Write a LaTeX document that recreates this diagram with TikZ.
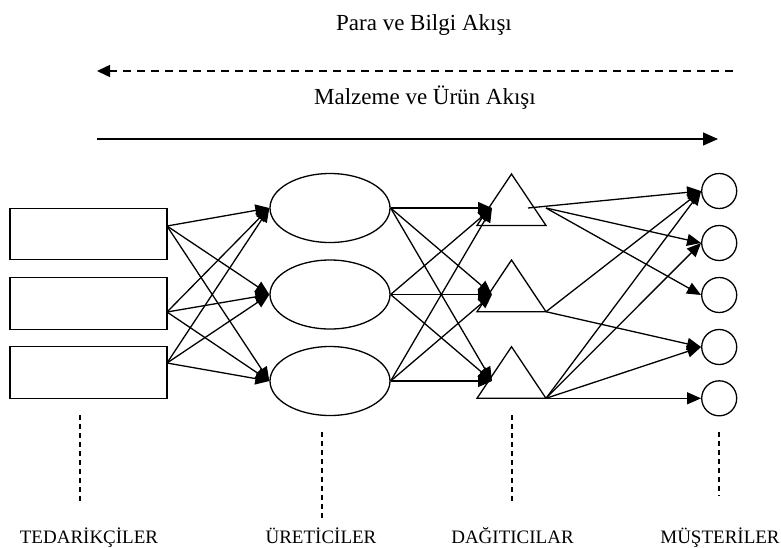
\documentclass[tikz,border=0pt]{standalone}
\usepackage{fontspec}
\setmainfont{Liberation Serif}
\usetikzlibrary{arrows.meta,shapes.geometric}
\begin{document}
\begin{tikzpicture}[x=1pt,y=-1pt,
  outline/.style={draw, line width=1.3pt, fill=white},
  supplier/.style={outline, rectangle, minimum width=157pt, minimum height=51.5pt, inner sep=0pt},
  producer/.style={outline, ellipse, minimum width=120pt, minimum height=69pt, inner sep=0pt},
  customer/.style={outline, circle, minimum size=35pt, inner sep=0pt},
  flow/.style={line width=1.3pt, -{Triangle[length=14pt,width=12pt]}},
  heading/.style={font=\fontsize{23}{27}\selectfont, anchor=base, inner sep=0pt},
  tier/.style={font=\fontsize{19}{23}\selectfont, anchor=base, inner sep=0pt},
  tierline/.style={line width=1.5pt, dash pattern=on 5pt off 4pt},
]
\useasboundingbox (0,0) rectangle (781,547);

% --- flow headings and the two long arrows ---
\node[heading] (money) at (424,30) {Para ve Bilgi Akışı};
\node[heading] (material) at (425,104) {Malzeme ve Ürün Akışı};

\coordinate (infoR) at (733,71);
\coordinate (infoL) at (97,71);
\draw[line width=1.5pt, dash pattern=on 8pt off 6pt,
      -{Triangle[length=13pt,width=12pt]}] (infoR) -- (infoL);

\coordinate (goodsL) at (97,139);
\coordinate (goodsR) at (718,139);
\draw[line width=1.3pt, -{Triangle[length=15pt,width=13pt]}] (goodsL) -- (goodsR);

% --- suppliers ---
\node[supplier] (s1) at (88.5,234) {};
\node[supplier] (s2) at (88.5,303.5) {};
\node[supplier] (s3) at (88.5,372.5) {};
\coordinate (s1o) at (167,226);
\coordinate (s2o) at (167,312);
\coordinate (s3o) at (167,363);

% --- producers ---
\node[producer] (p1) at (330,208) {};
\node[producer] (p2) at (330,294.5) {};
\node[producer] (p3) at (330,381) {};

% --- distributors ---
\draw[outline] (477,225.5) -- (511.5,174) -- (546,225.5) -- cycle;
\draw[outline] (477,311.7) -- (511.5,260) -- (546,311.7) -- cycle;
\draw[outline] (477,398.3) -- (511.5,346.7) -- (546,398.3) -- cycle;
\coordinate (d1in) at (492,208);
\coordinate (d2in) at (492,294.5);
\coordinate (d3in) at (492,381);
\coordinate (d1a) at (528,208);
\coordinate (d1b) at (546,208);
\coordinate (d2o) at (546,311.7);
\coordinate (d3o) at (546,398.3);

% --- customers ---
\node[customer] (c1) at (719.2,191) {};
\node[customer] (c2) at (719.2,243) {};
\node[customer] (c3) at (719.2,295) {};
\node[customer] (c4) at (719.2,347) {};
\node[customer] (c5) at (719.2,398.3) {};

% --- suppliers to producers ---
\foreach \s in {s1o,s2o,s3o}
  \foreach \p in {p1,p2,p3}
    \draw[flow] (\s) -- (\p.west);

% --- producers to distributors ---
\foreach \p in {p1,p2,p3}
  \foreach \d in {d1in,d2in,d3in}
    \draw[flow] (\p.east) -- (\d);

% --- distributors to customers ---
\draw[flow] (d1a) -- (c1.west);
\draw[flow] (d1b) -- (c2.west);
\draw[flow] (d1b) -- (c3.west);
\draw[flow] (d2o) -- (c1.west);
\draw[flow] (d2o) -- (c4.west);
\draw[flow] (d3o) -- (c1.west);
\draw[flow] (d3o) -- (c2.west);
\draw[flow] (d3o) -- (c4.west);
\draw[flow] (d3o) -- (c5.west);

% --- tier markers and labels ---
\coordinate (ts0) at (80,415);   \coordinate (ts1) at (80,502);
\coordinate (tp0) at (322,432);  \coordinate (tp1) at (322,520);
\coordinate (td0) at (512,415);  \coordinate (td1) at (512,503);
\coordinate (tc0) at (719,432);  \coordinate (tc1) at (719,496);
\draw[tierline] (ts0) -- (ts1);
\draw[tierline] (tp0) -- (tp1);
\draw[tierline] (td0) -- (td1);
\draw[tierline] (tc0) -- (tc1);

\node[tier] (lblS) at (89,543) {TEDARİKÇİLER};
\node[tier] (lblP) at (321,543) {ÜRETİCİLER};
\node[tier] (lblD) at (512.5,543) {DAĞITICILAR};
\node[tier] (lblC) at (720,543) {MÜŞTERİLER};
\end{tikzpicture}
\end{document}
